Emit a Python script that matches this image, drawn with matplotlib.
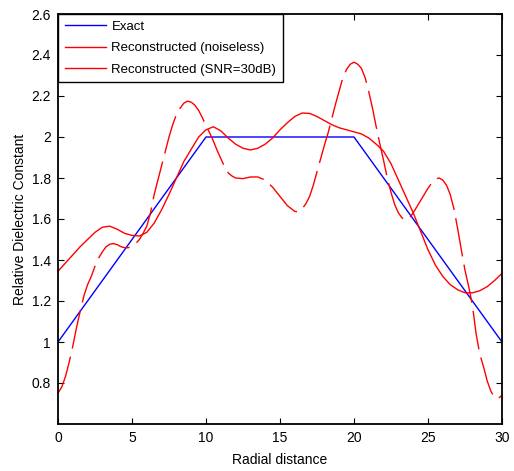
import matplotlib
matplotlib.use("Agg")
import matplotlib.pyplot as plt

plt.rcParams['font.family'] = ['Liberation Sans', 'DejaVu Sans']

# Exact profile
exact_x = [0, 10, 20, 30]
exact_y = [1.0, 2.0, 2.0, 1.0]

# Reconstructed (noiseless)
clean_x = [0, 0.5, 1, 1.5, 2, 2.5, 3, 3.5, 4, 4.5, 5, 5.5, 6, 6.5, 7, 7.5, 8, 8.5,
           9, 9.5, 10, 10.5, 11, 11.5, 12, 12.5, 13, 13.5, 14, 14.5, 15, 15.5, 16,
           16.5, 17, 17.5, 18, 18.5, 19, 19.5, 20, 20.5, 21, 21.5, 22, 22.5, 23,
           23.5, 24, 24.5, 25, 25.5, 26, 26.5, 27, 27.5, 28, 28.5, 29, 29.5, 30]
clean_y = [1.345, 1.385, 1.425, 1.465, 1.50, 1.535, 1.56, 1.565, 1.55, 1.53, 1.52,
           1.517, 1.535, 1.58, 1.645, 1.72, 1.80, 1.88, 1.94, 2.00, 2.035, 2.05,
           2.03, 1.995, 1.965, 1.945, 1.937, 1.945, 1.965, 1.995, 2.035, 2.07, 2.10,
           2.117, 2.115, 2.10, 2.08, 2.06, 2.045, 2.035, 2.025, 2.015, 1.995, 1.965,
           1.93, 1.87, 1.79, 1.71, 1.63, 1.54, 1.45, 1.375, 1.32, 1.28, 1.255, 1.24,
           1.24, 1.25, 1.27, 1.30, 1.335]

# Reconstructed (SNR=30dB)
noisy_x = [0, 0.25, 0.5, 0.75, 1.0, 1.25, 1.5, 1.75, 2.0, 2.25, 2.5, 2.75, 3.0, 3.25,
           3.5, 3.75, 4.0, 4.25, 4.5, 4.75, 5.0, 5.25, 5.5, 5.75, 6.0, 6.25, 6.5,
           6.75, 7.0, 7.25, 7.5, 7.75, 8.0, 8.25, 8.5, 8.75, 9.0, 9.25, 9.5, 9.75,
           10.0, 10.25, 10.5, 10.75, 11.0, 11.25, 11.5, 11.75, 12.0, 12.5, 13.0,
           13.5, 14.0, 14.5, 15.0, 15.5, 16.0, 16.25, 16.5, 16.75, 17.0, 17.25,
           17.5, 17.75, 18.0, 18.25, 18.5, 18.75, 19.0, 19.25, 19.5, 19.75, 20.0,
           20.25, 20.5, 20.75, 21.0, 21.25, 21.5, 21.75, 22.0, 22.25, 22.5, 22.75,
           23.0, 23.25, 23.5, 23.75, 24.0, 24.25, 24.5, 24.75, 25.0, 25.25, 25.5,
           25.75, 26.0, 26.25, 26.5, 26.75, 27.0, 27.25, 27.5, 27.75, 28.0, 28.25,
           28.5, 28.75, 29.0, 29.25, 29.5, 29.75, 30.0]
noisy_y = [0.75, 0.78, 0.83, 0.90, 0.98, 1.07, 1.15, 1.225, 1.28, 1.32, 1.37, 1.41,
           1.44, 1.465, 1.477, 1.48, 1.475, 1.465, 1.46, 1.46, 1.468, 1.48, 1.50,
           1.53, 1.565, 1.63, 1.72, 1.79, 1.86, 1.93, 2.0, 2.06, 2.11, 2.14, 2.165,
           2.175, 2.17, 2.155, 2.13, 2.095, 2.055, 2.02, 1.98, 1.935, 1.895, 1.855,
           1.825, 1.81, 1.80, 1.797, 1.805, 1.805, 1.79, 1.755, 1.71, 1.665, 1.637,
           1.635, 1.65, 1.675, 1.71, 1.765, 1.83, 1.895, 1.96, 2.02, 2.09, 2.16,
           2.225, 2.29, 2.33, 2.355, 2.365, 2.355, 2.335, 2.29, 2.22, 2.14, 2.05,
           1.965, 1.885, 1.80, 1.73, 1.67, 1.63, 1.605, 1.595, 1.605, 1.63, 1.66,
           1.69, 1.72, 1.75, 1.775, 1.795, 1.80, 1.79, 1.765, 1.72, 1.65, 1.555,
           1.45, 1.35, 1.27, 1.18, 1.04, 0.94, 0.88, 0.81, 0.76, 0.728, 0.725, 0.74]

x_ticks = [0, 5, 10, 15, 20, 25, 30]
y_ticks = [0.8, 1.0, 1.2, 1.4, 1.6, 1.8, 2.0, 2.2, 2.4, 2.6]
y_tick_labels = ["0.8", "1", "1.2", "1.4", "1.6", "1.8", "2", "2.2", "2.4", "2.6"]

fig = plt.figure(figsize=(5.14, 4.71), dpi=100)
ax = fig.add_axes([58/514, 1-424/471, (502-58)/514, (424-14)/471])

ax.plot(exact_x, exact_y, color=(0, 0, 1), lw=1.0, label="Exact")
ax.plot(clean_x, clean_y, color=(1, 0, 0), lw=1.0, label="Reconstructed (noiseless)")
ax.plot(noisy_x, noisy_y, color=(1, 0, 0), lw=1.0, linestyle=(0, (28, 6)),
        label="Reconstructed (SNR=30dB)")

ax.set_xlim(0, 30)
ax.set_ylim(0.6, 2.6)
ax.set_xticks(x_ticks)
ax.set_xticklabels([str(v) for v in x_ticks])
ax.set_yticks(y_ticks)
ax.set_yticklabels(y_tick_labels)
ax.tick_params(direction='in', top=True, right=True, length=4, width=0.8,
               labelsize=10, pad=5)
for s in ax.spines.values():
    s.set_linewidth(1.3)

ax.set_xlabel("Radial distance", fontsize=10, labelpad=6)
ax.set_ylabel("Relative Dielectric Constant", fontsize=10, labelpad=3)

leg = ax.legend(loc='upper left', borderaxespad=0, fontsize=9.5, fancybox=False,
                framealpha=1, edgecolor='black', handlelength=3.1,
                handletextpad=0.45, labelspacing=0.7, borderpad=0.5)
leg.get_frame().set_linewidth(1.0)
for h in leg.get_lines():
    h.set_linestyle('-')

fig.savefig("out.png", dpi=100)
